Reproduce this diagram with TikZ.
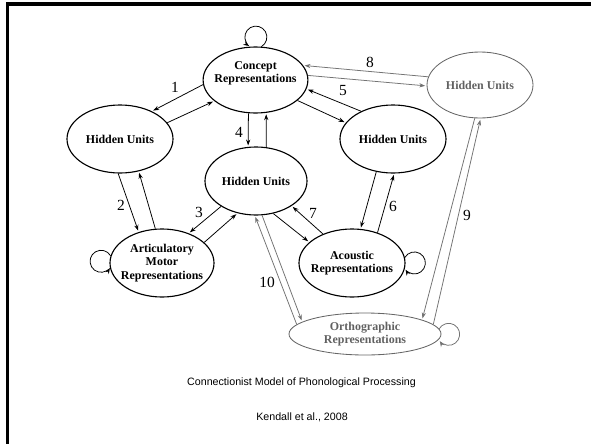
\documentclass[tikz,border=0pt]{standalone}
\usepackage{fontspec}
\setmainfont{Liberation Serif}
\setsansfont{Liberation Sans}
\usetikzlibrary{arrows.meta,shapes.geometric}
\tikzset{
  unit/.style={ellipse,draw,line width=0.8pt,inner sep=0pt,inner xsep=-14pt,align=center,
    font=\fontsize{8.5}{9.5}\selectfont\bfseries,minimum width=2.65cm,minimum height=1.7cm},
  faint/.style={draw=black!60,text=black!62,line width=0.6pt},
  arr/.style={-{Stealth[length=4.2pt,width=3pt]},line width=0.55pt,shorten >=1pt},
  farr/.style={arr,black!55},
  num/.style={font=\fontsize{11}{11}\selectfont},
  caption/.style={font=\sffamily\fontsize{7.6}{9}\selectfont}
}
\begin{document}
\begin{tikzpicture}[x=0.25mm,y=0.25mm]
\pgfmathsetmacro{\klr}{11}
\useasboundingbox (0,0) rectangle (591,-444);
\draw[line width=2.2pt] (591,-4)--(7.5,-4)--(7.5,-444);
% units
\node[unit,minimum width=2.62cm,minimum height=1.65cm,text depth=11pt] (C) at (255.5,-80) {Concept\\Representations};
\node[unit] (L) at (120,-139) {Hidden Units};
\node[unit,minimum width=2.55cm] (M) at (256,-181) {Hidden Units};
\node[unit] (R) at (393,-139) {Hidden Units};
\node[unit,faint,minimum height=1.65cm] (G) at (480,-85) {Hidden Units};
\node[unit,minimum width=2.6cm] (A) at (162,-263) {Articulatory\\Motor\\Representations};
\node[unit] (S) at (352,-263) {Acoustic\\Representations};
\node[unit,faint,minimum width=3.8cm,minimum height=1.05cm] (O) at (365,-334) {Orthographic\\Representations};
% connections
\foreach \ka/\kb in {C.185/L.41,L.19/C.207,L.267/A.127,A.101/L.300,M.216/A.48,A.26/M.240,
  C.258/M.103,M.73/C.288,R.139/C.350,C.334/R.161,R.243/S.76,S.50/R.272,M.298/S.154,S.135/M.325}
  {\draw[arr] (\ka)--(\kb);}
\foreach \ka/\kb in {G.171/C.17,C.5/G.181,G.261/O.14,O.8/G.271,M.280/O.169,O.172/M.268}
  {\draw[farr] (\ka)--(\kb);}
% self loops
\draw[arr] (C.80) arc[start angle=-60,end angle=240,radius=\klr];
\draw[arr] (A.172) arc[start angle=30,end angle=330,radius=\klr];
\draw[arr] (S.6) arc[start angle=150,end angle=-150,radius=\klr];
\draw[farr] (O.4) arc[start angle=150,end angle=-150,radius=\klr];
\foreach \kn/\kx/\ky in {1/175/87,2/121/205,3/199/212,4/239/132,5/343/91,6/393/206,7/313/213,8/370/62,9/467/215,10/267/282}
  {\node[num] (n\kn) at (\kx,-\ky) {\kn};}
\node[caption] (title) at (301.5,-383) {Connectionist Model of Phonological Processing};
\node[caption] (cite) at (302,-417) {Kendall et al., 2008};
\end{tikzpicture}
\end{document}
